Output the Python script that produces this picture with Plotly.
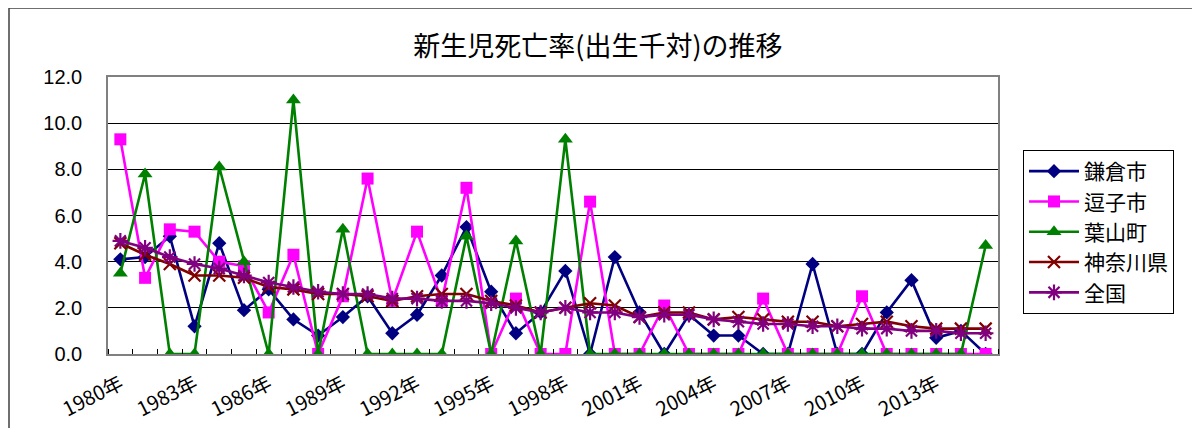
import plotly.graph_objects as go

years = [1980, 1981, 1982, 1983, 1984, 1985, 1986, 1987, 1988, 1989,
         1990, 1991, 1992, 1993, 1994, 1995, 1996, 1997, 1998, 1999,
         2000, 2001, 2002, 2003, 2004, 2005, 2006, 2007, 2008, 2009,
         2010, 2011, 2012, 2013, 2014, 2015]

kamakura = [4.1, 4.2, 5.1, 1.2, 4.8, 1.9, 2.8, 1.5, 0.8, 1.6,
            2.5, 0.9, 1.7, 3.4, 5.5, 2.7, 0.9, 1.8, 3.6, 0.0,
            4.2, 1.8, 0.0, 1.7, 0.8, 0.8, 0.0, 0.0, 3.9, 0.0,
            0.0, 1.8, 3.2, 0.7, 1.0, 0.0]
zushi = [9.3, 3.3, 5.4, 5.3, 4.0, 3.8, 1.8, 4.3, 0.0, 2.5,
         7.6, 2.3, 5.3, 2.3, 7.2, 0.0, 2.4, 0.0, 0.0, 6.6,
         0.0, 0.0, 2.1, 0.0, 0.0, 0.0, 2.4, 0.0, 0.0, 0.0,
         2.5, 0.0, 0.0, 0.0, 0.0, 0.0]
hayama = [3.5, 7.8, 0.0, 0.0, 8.1, 4.0, 0.0, 11.0, 0.0, 5.4,
          0.0, 0.0, 0.0, 0.0, 5.1, 0.0, 4.9, 0.0, 9.3, 0.0,
          0.0, 0.0, 0.0, 0.0, 0.0, 0.0, 0.0, 0.0, 0.0, 0.0,
          0.0, 0.0, 0.0, 0.0, 0.0, 4.7]
kanagawa = [4.8, 4.3, 3.9, 3.4, 3.4, 3.3, 2.9, 2.8, 2.6, 2.6,
            2.5, 2.3, 2.5, 2.6, 2.6, 2.3, 2.1, 1.8, 2.0, 2.2,
            2.1, 1.6, 1.8, 1.8, 1.5, 1.6, 1.5, 1.4, 1.4, 1.2,
            1.3, 1.4, 1.2, 1.1, 1.1, 1.1]
zenkoku = [4.9, 4.6, 4.2, 3.9, 3.7, 3.4, 3.1, 2.9, 2.7, 2.6,
           2.6, 2.4, 2.4, 2.3, 2.3, 2.2, 2.0, 1.8, 2.0, 1.8,
           1.8, 1.6, 1.7, 1.7, 1.5, 1.4, 1.3, 1.3, 1.2, 1.2,
           1.1, 1.1, 1.0, 1.0, 0.9, 0.9]

tick_years = [1980, 1983, 1986, 1989, 1992, 1995, 1998, 2001, 2004, 2007, 2010, 2013]
tick_labels = ["1980年", "1983年", "1986年", "1989年", "1992年", "1995年",
               "1998年", "2001年", "2004年", "2007年", "2010年", "2013年"]

title_text = "新生児死亡率(出生千対)の推移"

series = [
    ("鎌倉市", kamakura, "#000080", dict(symbol="diamond", size=11, color="#000080")),
    ("逗子市", zushi, "#FF00FF", dict(symbol="square", size=12, color="#FF00FF")),
    ("葉山町", hayama, "#008000", dict(symbol="triangle-up", size=13, color="#008000")),
    ("神奈川県", kanagawa, "#800000", dict(symbol="x-thin-open", size=12, color="#800000",
                                       line=dict(width=2.2, color="#800000"))),
    ("全国", zenkoku, "#800080", dict(symbol="asterisk-open", size=13, color="#800080",
                                    line=dict(width=2.2, color="#800080"))),
]

fig = go.Figure()
for name, vals, col, mk in series:
    fig.add_trace(go.Scatter(
        x=years, y=vals, name=name, mode="lines+markers",
        line=dict(color=col, width=2.6), marker=mk, legendgroup=name,
    ))

# page body has an 8px offset; positions below are compensated for it
OFF = 8
L, T = 108 - OFF, 77 - OFF
PW, PH = 890, 277
R, B = 1200 - L - PW, 428 - T - PH

fig.update_layout(
    width=1200, height=428,
    margin=dict(l=L, r=R, t=T, b=B, autoexpand=False),
    paper_bgcolor="white", plot_bgcolor="white",
    font=dict(family="Noto Sans CJK JP", color="black"),
    title=dict(text=title_text, x=(598 - OFF) / 1200, xanchor="center",
               y=1 - (47 - OFF) / 428, yanchor="middle",
               font=dict(size=27, family="Noto Sans CJK JP", color="black")),
    showlegend=True,
    legend=dict(x=(1023 - 108) / PW, xanchor="left", y=(354 - 150) / PH, yanchor="top",
                bordercolor="black", borderwidth=1, bgcolor="white",
                font=dict(size=21, family="Noto Sans CJK JP"),
                itemwidth=50, tracegroupgap=7, traceorder="normal"),
    xaxis=dict(range=[1979.5, 2015.5], tickmode="array", tickvals=tick_years,
               ticktext=tick_labels, tickangle=-27, showgrid=False, zeroline=False,
               automargin=False,
               ticks="", showline=True, linecolor="#808080", linewidth=1.5, mirror=True,
               ticklabelstandoff=9,
               tickfont=dict(size=20, family="Noto Sans CJK JP", color="black"),
               minor=dict(tickmode="linear", tick0=1979.5, dtick=1, ticks="inside",
                          ticklen=5, tickcolor="black", showgrid=False)),
    yaxis=dict(range=[0, 12], dtick=2, tickformat=".1f", showgrid=True,
               gridcolor="black", gridwidth=1, zeroline=False, automargin=False,
               showline=True, linecolor="#808080", linewidth=1.5, mirror=True,
               ticks="", ticklen=0, ticklabelstandoff=20,
               tickfont=dict(size=20, family="Liberation Sans", color="black")),
)

# outer chart-area border
fig.add_shape(type="rect", xref="paper", yref="paper",
              x0=(OFF + 1 - 108) / PW, x1=(1196 - 108) / PW,
              y0=(354 - 440) / PH, y1=(354 - 8) / PH,
              line=dict(color="#404040", width=1.5), fillcolor="rgba(0,0,0,0)",
              layer="below")

fig.write_html("out.html")
